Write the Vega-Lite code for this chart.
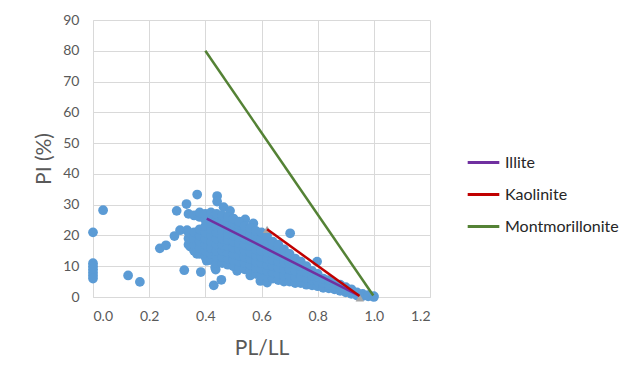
{
  "$schema": "https://vega.github.io/schema/vega-lite/v6.json",
  "width": 337,
  "height": 277,
  "autosize": {"type": "none"},
  "padding": {"left": 93, "top": 20, "right": 205, "bottom": 85},
  "background": "white",
  "config": {
    "view": {"stroke": null},
    "font": "Lato",
    "axis": {
      "grid": true, "gridColor": "#D9D9D9", "domainColor": "#D9D9D9", "ticks": false,
      "labelColor": "#595959", "labelFontSize": 14, "titleColor": "#595959",
      "titleFontSize": 21, "titleFontWeight": "normal", "labelFont": "Lato", "titleFont": "Lato"
    }
  },
  "datasets": {
    "pts": [
      {"x":0,"y":21},{"x":0,"y":11},{"x":0,"y":10},{"x":0,"y":9},{"x":0,"y":8},{"x":0,"y":7},{"x":0,"y":6},
      {"x":0.036,"y":28.2},{"x":0.125,"y":7},{"x":0.167,"y":4.9},{"x":0.238,"y":15.8},{"x":0.26,"y":16.8},
      {"x":0.29,"y":19.8},{"x":0.298,"y":28},{"x":0.31,"y":21.7},{"x":0.333,"y":30.2},{"x":0.335,"y":21.7},
      {"x":0.371,"y":33.3},{"x":0.442,"y":32.8},{"x":0.442,"y":31},{"x":0.465,"y":29.2},{"x":0.488,"y":28},
      {"x":0.542,"y":25.2},{"x":0.571,"y":23.9},{"x":0.325,"y":8.7},{"x":0.384,"y":8.1},{"x":0.43,"y":3.8},
      {"x":0.457,"y":5.6},{"x":0.437,"y":8.9},{"x":0.702,"y":20.7},{"x":0.798,"y":11.5},{"x":0.358,"y":20.6},
      {"x":0.346,"y":16.4},{"x":0.37,"y":14},{"x":0.405,"y":11.8},{"x":0.435,"y":9.6},{"x":0.513,"y":8.5},
      {"x":0.56,"y":7},{"x":0.596,"y":5.2},{"x":0.62,"y":4.7},
      {"x":0.34,"y":17},{"x":0.34,"y":19},{"x":0.34,"y":21},{"x":0.34,"y":27},
      {"x":0.36,"y":15},{"x":0.36,"y":17},{"x":0.36,"y":19},{"x":0.36,"y":21},{"x":0.36,"y":26.5},
      {"x":0.38,"y":14},{"x":0.38,"y":16},{"x":0.38,"y":18},{"x":0.38,"y":20},{"x":0.38,"y":22},{"x":0.38,"y":26},{"x":0.38,"y":27.5},
      {"x":0.40,"y":13},{"x":0.40,"y":15},{"x":0.40,"y":17},{"x":0.40,"y":19},{"x":0.40,"y":21},{"x":0.40,"y":23},{"x":0.40,"y":25},{"x":0.40,"y":27},
      {"x":0.42,"y":12},{"x":0.42,"y":14},{"x":0.42,"y":16},{"x":0.42,"y":18},{"x":0.42,"y":20},{"x":0.42,"y":22},{"x":0.42,"y":24},{"x":0.42,"y":26},{"x":0.42,"y":27.5},
      {"x":0.44,"y":11},{"x":0.44,"y":13},{"x":0.44,"y":15},{"x":0.44,"y":17},{"x":0.44,"y":19},{"x":0.44,"y":21},{"x":0.44,"y":23},{"x":0.44,"y":25},{"x":0.44,"y":27},
      {"x":0.46,"y":11},{"x":0.46,"y":13},{"x":0.46,"y":15},{"x":0.46,"y":17},{"x":0.46,"y":19},{"x":0.46,"y":21},{"x":0.46,"y":23},{"x":0.46,"y":25},{"x":0.46,"y":26.5},
      {"x":0.48,"y":10.5},{"x":0.48,"y":12.5},{"x":0.48,"y":14.5},{"x":0.48,"y":16.5},{"x":0.48,"y":18.5},{"x":0.48,"y":20.5},{"x":0.48,"y":22.5},{"x":0.48,"y":24.5},{"x":0.48,"y":26},
      {"x":0.50,"y":10},{"x":0.50,"y":12},{"x":0.50,"y":14},{"x":0.50,"y":16},{"x":0.50,"y":18},{"x":0.50,"y":20},{"x":0.50,"y":22},{"x":0.50,"y":24},{"x":0.50,"y":25.5},
      {"x":0.52,"y":9.5},{"x":0.52,"y":11.5},{"x":0.52,"y":13.5},{"x":0.52,"y":15.5},{"x":0.52,"y":17.5},{"x":0.52,"y":19.5},{"x":0.52,"y":21.5},{"x":0.52,"y":23.5},{"x":0.52,"y":24.5},
      {"x":0.54,"y":9},{"x":0.54,"y":11},{"x":0.54,"y":13},{"x":0.54,"y":15},{"x":0.54,"y":17},{"x":0.54,"y":19},{"x":0.54,"y":21},{"x":0.54,"y":23},
      {"x":0.56,"y":8.5},{"x":0.56,"y":10.5},{"x":0.56,"y":12.5},{"x":0.56,"y":14.5},{"x":0.56,"y":16.5},{"x":0.56,"y":18.5},{"x":0.56,"y":20.5},{"x":0.56,"y":22.5},
      {"x":0.58,"y":7.5},{"x":0.58,"y":9.5},{"x":0.58,"y":11.5},{"x":0.58,"y":13.5},{"x":0.58,"y":15.5},{"x":0.58,"y":17.5},{"x":0.58,"y":19.5},{"x":0.58,"y":21.5},
      {"x":0.60,"y":7},{"x":0.60,"y":9},{"x":0.60,"y":11},{"x":0.60,"y":13},{"x":0.60,"y":15},{"x":0.60,"y":17},{"x":0.60,"y":19},{"x":0.60,"y":21},
      {"x":0.62,"y":6.5},{"x":0.62,"y":8.5},{"x":0.62,"y":10.5},{"x":0.62,"y":12.5},{"x":0.62,"y":14.5},{"x":0.62,"y":16.5},{"x":0.62,"y":18.5},{"x":0.62,"y":20},
      {"x":0.64,"y":6},{"x":0.64,"y":8},{"x":0.64,"y":10},{"x":0.64,"y":12},{"x":0.64,"y":14},{"x":0.64,"y":16},{"x":0.64,"y":18},
      {"x":0.66,"y":5.5},{"x":0.66,"y":7.5},{"x":0.66,"y":9.5},{"x":0.66,"y":11.5},{"x":0.66,"y":13.5},{"x":0.66,"y":15.5},{"x":0.66,"y":17},
      {"x":0.68,"y":5},{"x":0.68,"y":7},{"x":0.68,"y":9},{"x":0.68,"y":11},{"x":0.68,"y":13},{"x":0.68,"y":15.5},
      {"x":0.70,"y":5},{"x":0.70,"y":7},{"x":0.70,"y":9},{"x":0.70,"y":11},{"x":0.70,"y":12.5},{"x":0.70,"y":14},
      {"x":0.72,"y":4.5},{"x":0.72,"y":6.5},{"x":0.72,"y":8.5},{"x":0.72,"y":10.5},{"x":0.72,"y":12.5},
      {"x":0.74,"y":4.5},{"x":0.74,"y":6.5},{"x":0.74,"y":8.5},{"x":0.74,"y":10},{"x":0.74,"y":11.5},
      {"x":0.76,"y":4},{"x":0.76,"y":6},{"x":0.76,"y":8},{"x":0.76,"y":10},
      {"x":0.78,"y":3.8},{"x":0.78,"y":5.5},{"x":0.78,"y":7},{"x":0.78,"y":8.5},
      {"x":0.80,"y":3.5},{"x":0.80,"y":5},{"x":0.80,"y":6.5},{"x":0.80,"y":7.5},
      {"x":0.82,"y":3},{"x":0.82,"y":4.5},{"x":0.82,"y":6},
      {"x":0.84,"y":2.8},{"x":0.84,"y":4},{"x":0.84,"y":5.5},
      {"x":0.86,"y":2.5},{"x":0.86,"y":3.5},{"x":0.86,"y":4.5},
      {"x":0.88,"y":2},{"x":0.88,"y":3},{"x":0.88,"y":4},
      {"x":0.90,"y":1.5},{"x":0.90,"y":2.5},{"x":0.90,"y":3.2},
      {"x":0.92,"y":1},{"x":0.92,"y":2},{"x":0.92,"y":2.5},
      {"x":0.94,"y":0.5},{"x":0.94,"y":1.5},
      {"x":0.96,"y":0.3},{"x":0.96,"y":1},
      {"x":0.98,"y":0.2},{"x":0.98,"y":0.6},
      {"x":1.00,"y":0},{"x":1.00,"y":0.3}
    ],
    "lines": [
      {"series":"Illite","x":0.405,"y":25.5},{"series":"Illite","x":0.946,"y":0.5},
      {"series":"Kaolinite","x":0.62,"y":22},{"series":"Kaolinite","x":0.949,"y":0.3},
      {"series":"Montmorillonite","x":0.4,"y":80},{"series":"Montmorillonite","x":0.998,"y":0.5}
    ],
    "tri": [
      {"x":0.62,"y":22},{"x":0.95,"y":-0.3}
    ]
  },
  "encoding": {
    "x": {"field": "x", "type": "quantitative",
      "scale": {"domain": [0, 1.2], "nice": false},
      "axis": {"values": [0,0.2,0.4,0.6,0.8,1.0,1.2], "format": ".1f", "title": "PL/LL", "labelPadding": 12, "titlePadding": 14}},
    "y": {"field": "y", "type": "quantitative",
      "scale": {"domain": [0, 90], "nice": false},
      "axis": {"values": [0,10,20,30,40,50,60,70,80,90], "title": "PI (%)", "labelPadding": 14, "titlePadding": 8}}
  },
  "layer": [
    {"data": {"name": "pts"}, "mark": {"type": "circle", "size": 95, "opacity": 1, "color": "#5B9BD5"}},
    {"data": {"name": "tri"}, "mark": {"type": "point", "shape": "triangle-up", "filled": true, "size": 70, "opacity": 1, "color": "#A5A5A5"}},
    {"data": {"name": "lines"}, "mark": {"type": "line", "strokeWidth": 2.5},
      "encoding": {
        "color": {"field": "series", "type": "nominal",
          "scale": {"domain": ["Illite","Kaolinite","Montmorillonite"], "range": ["#7030A0","#C00000","#548235"]},
          "legend": {"title": null, "orient": "none", "legendX": 373, "legendY": 125, "padding": 0,
            "symbolType": "stroke", "symbolStrokeWidth": 3, "symbolSize": 1000, "labelOffset": 4,
            "labelFontSize": 16, "labelColor": "#262626", "labelFont": "Lato", "rowPadding": 6}}
      }}
  ]
}
